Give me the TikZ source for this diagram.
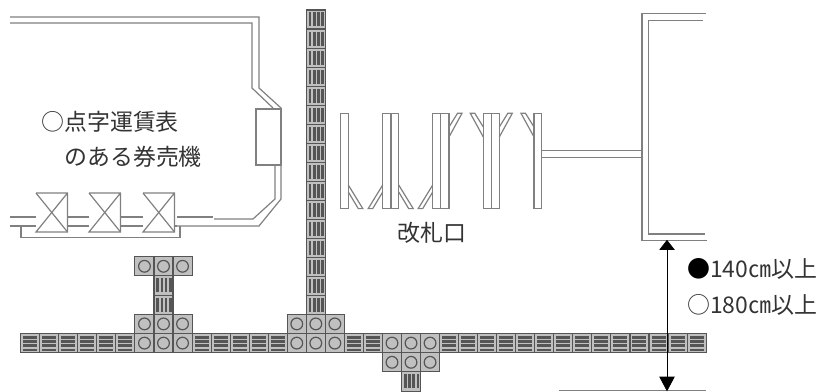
\documentclass[tikz,border=0pt]{standalone}
\usepackage{fontspec}
\newfontfamily\japonais{Noto Sans CJK JP}
\usetikzlibrary{arrows.meta}
\definecolor{trait}{HTML}{808080}
\definecolor{dalle}{HTML}{C0C0C0}
\definecolor{relief}{HTML}{555555}
\begin{document}
\begin{tikzpicture}[x=0.75pt,y=-0.75pt]
	\tikzstyle{paroi}=[draw=trait,line width=0.9pt,line join=miter]
	\tikzstyle{libelle}=[inner sep=0pt,text=black!80,font=\japonais\fontsize{17.2}{20}\selectfont]
	\tikzstyle{dallage}=[draw=relief,fill=dalle,line width=0.8pt]
	\tikzstyle{fleche}=[{Triangle[length=7.5pt,width=11.5pt]}-{Triangle[length=11pt,width=11.5pt]},black,line width=0.6pt,shorten <=-0.5pt,shorten >=-0.5pt]
	\def\PasDalle{19.04}\def\HautDalle{19.2}
	\def\DallePoints#1#2{
		\draw[dallage] ({#1},{#2}) rectangle ++(\PasDalle,\HautDalle);
		\draw[draw=relief,line width=0.9pt] ({#1+\PasDalle/2},{#2+\HautDalle/2}) circle[radius=4.4pt];
	}
	\def\DalleLignes#1#2{
		\draw[dallage] ({#1},{#2}) rectangle ++(\PasDalle,\HautDalle);
		\foreach \r in {2.4,6.6,10.8,15}{
			\fill[relief] ({#1+2.5},{#2+\r}) rectangle ++(14,2.6);
		}
	}
	\def\DalleBarres#1#2{
		\draw[dallage] ({#1},{#2}) rectangle ++(\PasDalle,\HautDalle);
		\foreach \r in {2.4,6.6,10.8,15}{
			\fill[relief] ({#1+\r},{#2+2.5}) rectangle ++(2.6,14);
		}
	}
	\useasboundingbox (0,0) rectangle (820,392);
	% mur de gauche
	\draw[paroi] (10,17)--(259,17)--(259,88)--(281,108)--(281,199)--(259,226)--(177,226);
	\draw[paroi] (10,23)--(252,23)--(252,88)--(273,108);
	\draw[paroi] (275,165)--(275,199)--(253,219)--(214,219);
	\draw[paroi] (177,217)--(213,217);
	\draw[paroi,fill=white] (256,109) rectangle (281,165);
	% distributeurs
	\foreach \px in {36,89,143}{
		\draw[paroi] (\px,193)--(\px+31.5,193)--(\px+31.5,232)--(\px,232)--(\px+31.5,193);
		\draw[paroi] (\px,193)--(\px+31.5,232);
	}
	\foreach \pa/\pb in {10/36,67.5/89,120.5/143}{
		\draw[paroi] (\pa,217)--(\pb,217);
		\draw[paroi] (\pa,226)--(\pb,226);
	}
	\draw[paroi] (174.5,226)--(177,226);
	\draw[paroi] (21,226)--(21,237.5)--(180,237.5)--(180,226);
	% portillons
	\foreach \pa/\pb in {340.7/348.3,382.7/391,391/398.7,432.7/440.7,440.7/449,483.3/491.3,491.3/499.3,534/541.3}
		\draw[paroi] (\pa,113.3) rectangle (\pb,208.6);
	\foreach \px/\sg in {348.3/1,382.7/-1,398.7/1,432.7/-1}
		\draw[paroi] (\px,185)--(\px+\sg*14.5,208.6)--(\px+\sg*10,208.6)--(\px,192);
	\foreach \px/\sg in {449/1,483.3/-1,499.3/1,534/-1}
		\draw[paroi] (\px,137)--(\px+\sg*13,113.3)--(\px+\sg*8.5,113.3)--(\px,127);
	\draw[paroi] (541.3,150.7) rectangle (642,157.7);
	% mur de droite
	\draw[paroi] (706,13.5)--(642,13.5)--(642,240.5)--(706.5,240.5);
	\draw[paroi] (703,20.5)--(648.5,20.5)--(648.5,234)--(705,234);
	\draw[paroi] (559,390.7)--(706,390.7);
	% bande horizontale
	\foreach \i in {0,...,5,9,10,...,13,17,18,22,23,...,35}{
		\DalleLignes{20.7+\PasDalle*\i}{333.5}
	}
	\foreach \i in {6,7,8,14,15,16}{
		\DallePoints{20.7+\PasDalle*\i}{314.3}
		\DallePoints{20.7+\PasDalle*\i}{333.5}
	}
	\foreach \i in {19,20,21}{
		\DallePoints{20.7+\PasDalle*\i}{333.5}
		\DallePoints{20.7+\PasDalle*\i}{352.7}
	}
	% branches
	\foreach \i in {6,7,8}{
		\DallePoints{20.7+\PasDalle*\i}{256.7}
	}
	\DalleBarres{153.98}{275.9}
	\DalleBarres{153.98}{295.1}
	\foreach \n in {0,...,15}{
		\DalleBarres{306.3}{10+19.02*\n}
	}
	\DalleBarres{401.5}{371.9}
	% textes
	\node[libelle,anchor=west] (Billet) at (41,122) {○点字運賃表};
	\node[libelle,anchor=west] (Machine) at (64,157) {のある券売機};
	\node[libelle] (Guichet) at (432,233) {改札口};
	\node[libelle,anchor=west] (Largeur) at (687,269) {{\color{black}●}140㎝以上};
	\node[libelle,anchor=west] (Fauteuil) at (687,305) {○180㎝以上};
	% cote
	\coordinate (Haut) at (667,240.5);
	\coordinate (Bas) at (667,390.7);
	\draw[fleche] (Haut)--(Bas);
\end{tikzpicture}
\end{document}
